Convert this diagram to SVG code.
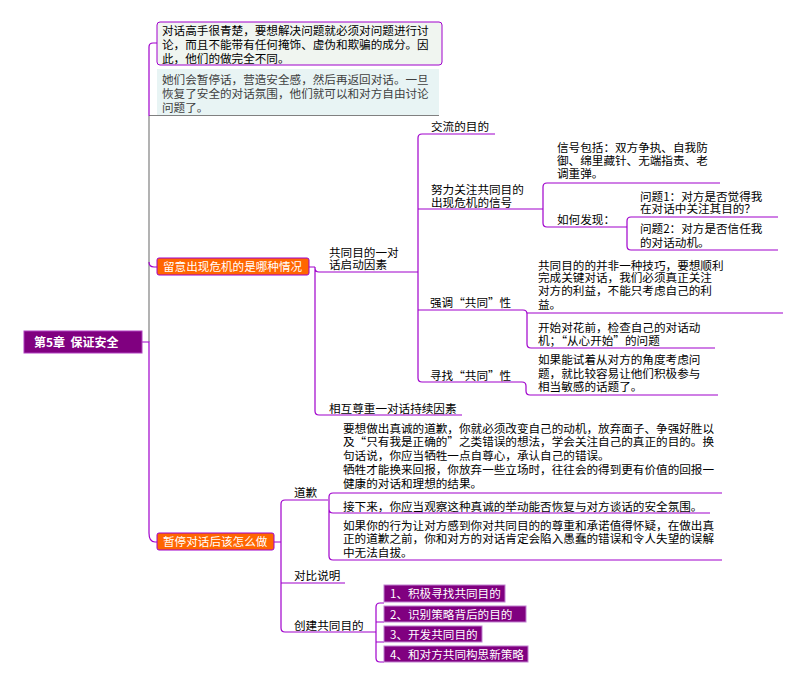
<svg xmlns="http://www.w3.org/2000/svg" width="800" height="684" viewBox="0 0 800 684">
<style>
text{font-family:"Noto Sans CJK SC","Liberation Sans",sans-serif;font-size:11.6px;fill:#000}
.g{fill:#404040}
.w{fill:#fff}
.rt{font-size:12px;font-weight:bold;fill:#fff}
.ln{fill:none;stroke:#A000CC;stroke-width:1.2}
.gr{fill:none;stroke:#808080;stroke-width:1.2}
.org{fill:#FF6600;stroke:#A000CC;stroke-width:1}
.pb{fill:#800080;stroke:#C080D0;stroke-width:1}
</style>
<rect width="800" height="684" fill="#fff"/>
<g id="connectors">
<path class="gr" d="M149,342 V116 M149,115.5 H439"/>
<path class="ln" d="M149,116 V47 Q149,43 153,43 H157"/>
<path class="ln" d="M142,342 H149 V533 Q149,542 155,542 H157"/>
<path class="ln" d="M149,262 Q149,267 154,267 H157"/>
<path class="ln" d="M309,267 H315 M315,267 V411 Q315,415 319,415 H462 M315,268 Q315,272 319,272 H418"/>
<path class="ln" d="M495,134 H422 Q418,134 418,138 V378 Q418,382 422,382 H522 Q526,382 526,386 V391 Q526,395 530,395 H718"/>
<path class="ln" d="M418,209 H543"/>
<path class="ln" d="M720,183 H547 Q543,183 543,187 V223 Q543,227 547,227 H627"/>
<path class="ln" d="M778,217 H631 Q627,217 627,221 V246 Q627,250 631,250 H778"/>
<path class="ln" d="M418,310 H523 Q527,310 527,314 V344 Q527,348 531,348 H715 M527,313 H783"/>
<path class="ln" d="M274,542 H281 M328,500 H285 Q281,500 281,504 V628 Q281,632 285,632 H376 M281,583 H345"/>
<path class="ln" d="M722,493 H333 Q329,493 329,497 V556 Q329,560 333,560 H722 M329,509 Q329,513 333,513 H710"/>
<path class="ln" d="M384,603 H380 Q376,603 376,607 V658 Q376,662 380,662 H384 M376,622 H384 M376,642 H384"/>
</g>
<g id="root">
<rect x="24" y="331" width="118" height="22" fill="#800080" stroke="#B040C0"/>
<text class="rt" x="34" y="346.5">第5章&#160;&#160;保证安全</text>
</g>
<g id="note1">
<rect x="157" y="22" width="285" height="43" rx="3" fill="#F0F5F0" stroke="#A000CC"/>
<text x="162" y="34.5"><tspan x="162" y="34.5">对话高手很青楚，要想解决问题就必须对问题进行讨</tspan><tspan x="162" y="48.5">论，而且不能带有任何掩饰、虚伪和欺骗的成分。因</tspan><tspan x="162" y="62.5">此，他们的做完全不同。</tspan></text>
</g>
<g id="note2">
<rect x="157" y="69" width="282" height="46" fill="#E8F4F4"/>
<text class="g" x="162" y="83.5"><tspan x="162" y="83.5">她们会暂停话，营造安全感，然后再返回对话。一旦</tspan><tspan x="162" y="97.5">恢复了安全的对话氛围，他们就可以和对方自由讨论</tspan><tspan x="162" y="111.5">问题了。</tspan></text>
</g>
<g id="watch">
<rect class="org" x="157" y="258" width="152" height="17" rx="2"/>
<text class="w" x="163" y="271">留意出现危机的是哪种情况</text>
</g>
<g id="pause">
<rect class="org" x="157" y="533" width="117" height="17" rx="2"/>
<text class="w" x="163" y="546">暂停对话后该怎么做</text>
</g>
<g id="common"><text x="329" y="256.5"><tspan x="329" y="256.5">共同目的一对</tspan><tspan x="329" y="268.5">话启动因素</tspan></text></g>
<g id="respect"><text x="329" y="412.5">相互尊重一对话持续因素</text></g>
<g id="purpose"><text x="431" y="130.5">交流的目的</text></g>
<g id="focus"><text x="431" y="193.5"><tspan x="431" y="193.5">努力关注共同目的</tspan><tspan x="431" y="206.5">出现危机的信号</tspan></text></g>
<g id="signals"><text x="557" y="152"><tspan x="557" y="152">信号包括：双方争执、自我防</tspan><tspan x="557" y="165">御、绵里藏针、无端指责、老</tspan><tspan x="557" y="178">调重弹。</tspan></text></g>
<g id="how"><text x="557" y="223.5">如何发现：</text></g>
<g id="q1"><text x="640" y="200.5"><tspan x="640" y="200.5">问题1：对方是否觉得我</tspan><tspan x="640" y="213">在对话中关注其目的？</tspan></text></g>
<g id="q2"><text x="640" y="233"><tspan x="640" y="233">问题2：对方是否信任我</tspan><tspan x="640" y="247">的对话动机。</tspan></text></g>
<g id="stress"><text x="430" y="306.5">强调“共同”性</text></g>
<g id="stress1"><text x="538" y="269.5"><tspan x="538" y="269.5">共同目的的并非一种技巧，要想顺利</tspan><tspan x="538" y="282">完成关键对话，我们必须真正关注</tspan><tspan x="538" y="295">对方的利益，不能只考虑自己的利</tspan><tspan x="538" y="308.5">益。</tspan></text></g>
<g id="stress2"><text x="538" y="331.5"><tspan x="538" y="331.5">开始对花前，检查自己的对话动</tspan><tspan x="538" y="344.5">机；“从心开始”的问题</tspan></text></g>
<g id="seek"><text x="430" y="379.5">寻找“共同”性</text></g>
<g id="seek1"><text x="538" y="363.8"><tspan x="538" y="363.8">如果能试着从对方的角度考虑问</tspan><tspan x="538" y="377.8">题，就比较容易让他们积极参与</tspan><tspan x="538" y="391.2">相当敏感的话题了。</tspan></text></g>
<g id="apology"><text x="294" y="496.5">道歉</text></g>
<g id="apology1">
<text x="343" y="432.8"><tspan x="343" y="432.8">要想做出真诚的道歉，你就必须改变自己的动机，放弃面子、争强好胜以</tspan><tspan x="343" y="446.2">及“只有我是正确的”之类错误的想法，学会关注自己的真正的目的。换</tspan><tspan x="343" y="460.2">句话说，你应当牺牲一点自尊心，承认自己的错误。</tspan><tspan x="343" y="473.8">牺牲才能换来回报，你放弃一些立场时，往往会的得到更有价值的回报一</tspan><tspan x="343" y="487.8">健康的对话和理想的结果。</tspan></text>
</g>
<g id="apology2"><text x="343" y="510.5">接下来，你应当观察这种真诚的举动能否恢复与对方谈话的安全氛围。</text></g>
<g id="apology3">
<text x="343" y="529.5"><tspan x="343" y="529.5">如果你的行为让对方感到你对共同目的的尊重和承诺值得怀疑，在做出真</tspan><tspan x="343" y="543">正的道歉之前，你和对方的对话肯定会陷入愚蠢的错误和令人失望的误解</tspan><tspan x="343" y="557">中无法自拔。</tspan></text>
</g>
<g id="contrast"><text x="294" y="579.5">对比说明</text></g>
<g id="create"><text x="294" y="629.5">创建共同目的</text></g>
<g id="step1"><rect class="pb" x="384" y="585" width="121" height="17"/><text class="w" x="390" y="598">1、积极寻找共同目的</text></g>
<g id="step2"><rect class="pb" x="384" y="606" width="142" height="16"/><text class="w" x="390" y="618.5">2、识别策略背后的目的</text></g>
<g id="step3"><rect class="pb" x="384" y="626" width="98" height="16"/><text class="w" x="390" y="638.5">3、开发共同目的</text></g>
<g id="step4"><rect class="pb" x="384" y="646" width="144" height="16"/><text class="w" x="390" y="658.5">4、和对方共同构思新策略</text></g>
</svg>
